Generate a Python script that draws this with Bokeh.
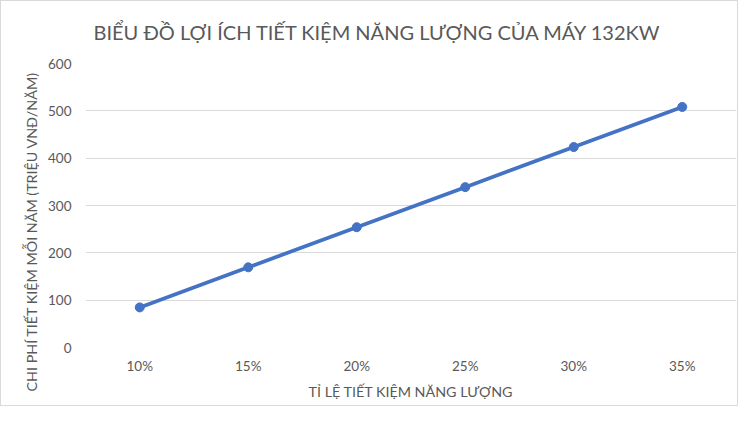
from bokeh.plotting import figure
from bokeh.models import FactorRange, Range1d, FixedTicker, Title
from bokeh.embed import file_html
from bokeh.resources import INLINE

# Data
categories = ["10%", "15%", "20%", "25%", "30%", "35%"]
savings = [84.7, 169.4, 254.1, 338.8, 423.5, 508.2]
y_ticks = [0, 100, 200, 300, 400, 500, 600]

title_text = "BIỂU ĐỒ LỢI ÍCH TIẾT KIỆM NĂNG LƯỢNG CỦA MÁY 132KW"
x_label = "TỈ LỆ TIẾT KIỆM NĂNG LƯỢNG"
y_label = "CHI PHÍ TIẾT KIỆM MỖI NĂM (TRIỆU VNĐ/NĂM)"

FONT = "Lato"
GREY = "#595959"
BLUE = "#4472C4"

W, H = 738, 406
LEFT, RIGHT, TOP, BOTTOM = 84, 3, 62, 60

p = figure(
    width=W, height=H,
    x_range=FactorRange(*categories), y_range=Range1d(0, 600),
    output_backend="svg", toolbar_location=None,
    min_border_left=LEFT, min_border_right=RIGHT,
    min_border_top=TOP, min_border_bottom=BOTTOM,
)
p.styles = {"border": "1px solid #d9d9d9"}

p.outline_line_color = None
p.xgrid.grid_line_color = None
p.ygrid.grid_line_color = "#d9d9d9"
p.ygrid.grid_line_width = 1
p.yaxis.ticker = FixedTicker(ticks=y_ticks)

for ax in (p.xaxis, p.yaxis):
    ax.axis_line_color = None
    ax.major_tick_line_color = None
    ax.minor_tick_line_color = None
    ax.major_label_text_font = FONT
    ax.major_label_text_font_size = "13.5px"
    ax.major_label_text_color = GREY
    ax.axis_label_text_font = FONT
    ax.axis_label_text_font_size = "14.3px"
    ax.axis_label_text_font_style = "normal"
    ax.axis_label_text_color = GREY

p.xaxis.axis_label = x_label
p.xaxis.major_label_standoff = 4
p.xaxis.axis_label_standoff = 6
p.yaxis.major_label_standoff = 8

# Chart title
p.title.text = title_text
p.title.align = "left"
p.title.vertical_align = "top"
p.title.offset = 8
p.title.standoff = 36
p.title.text_font = FONT
p.title.text_font_size = "20px"
p.title.text_font_style = "normal"
p.title.text_color = GREY

# Vertical axis title (placed as a side title so it can be shifted)
p.add_layout(Title(
    text=y_label, align="left", offset=-44, standoff=11,
    text_font=FONT, text_font_size="14.3px", text_font_style="normal",
    text_color=GREY,
), "left")

p.line(categories, savings, line_color=BLUE, line_width=3.75)
p.scatter(categories, savings, size=9, fill_color=BLUE, line_color=BLUE)

open("out.html", "w").write(file_html(p, INLINE))
